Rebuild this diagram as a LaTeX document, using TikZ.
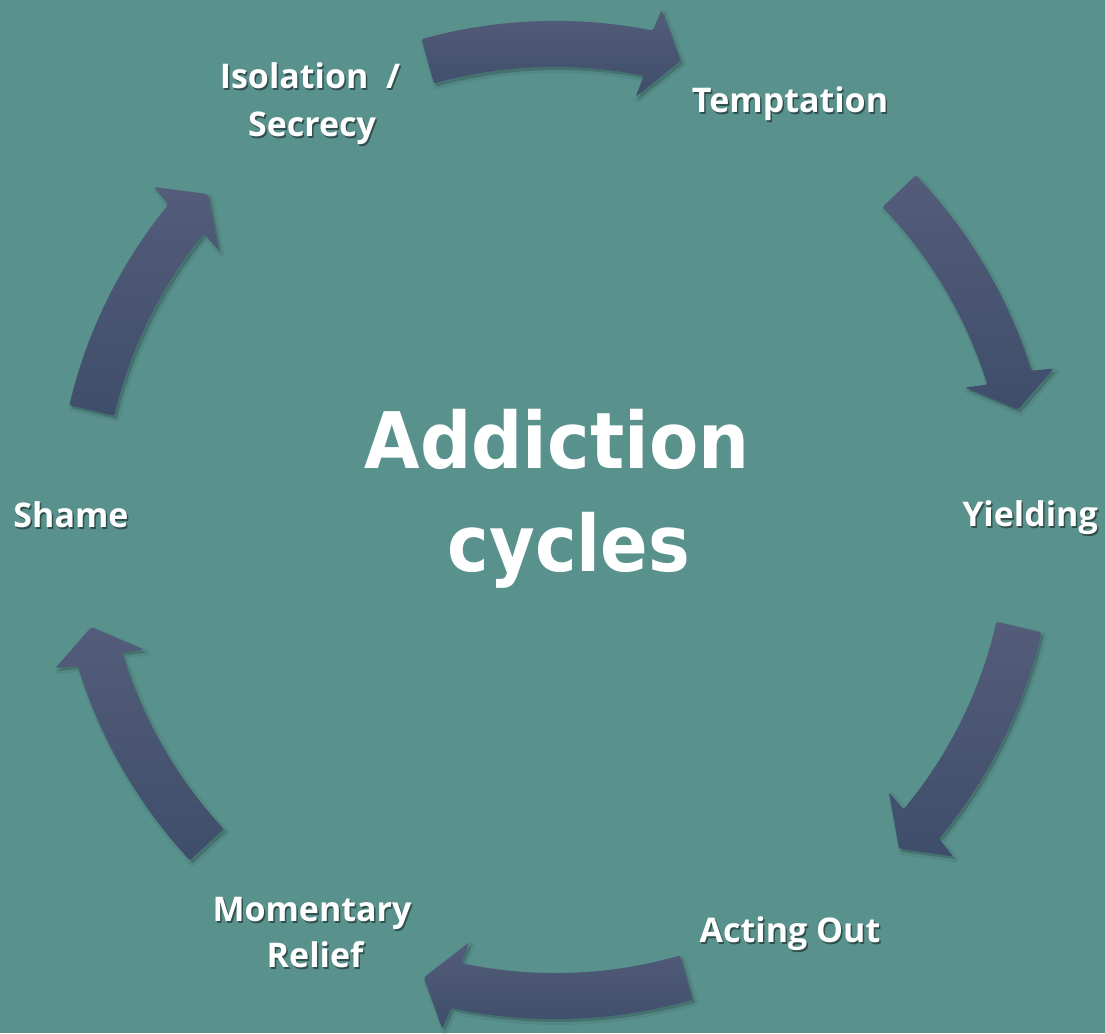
\documentclass[tikz,border=0pt]{standalone}
\usepackage{fontspec}
\newfontfamily\lblfont{Open Sans}
\newfontfamily\titlefonta{DejaVu Sans}[FakeStretch=0.92]
\newfontfamily\titlefontb{DejaVu Sans}[FakeStretch=0.9]
\definecolor{bg}{RGB}{89,145,141}
\definecolor{arlight}{RGB}{84,92,122}
\definecolor{ardark}{RGB}{62,78,106}
\tikzset{
  lbl/.style={font=\lblfont\bfseries\fontsize{34}{37}\selectfont, text=white, inner sep=0pt, anchor=base},
  lblsh/.style={lbl, text=black, opacity=0.45},
  ttl/.style={text=white, inner sep=0pt, anchor=base}
}
\newcommand\cycarrow[2]{%
  \pgfmathsetmacro\ta{#1}\pgfmathsetmacro\tb{#2}%
  \pgfmathsetmacro\hb{#2+4}\pgfmathsetmacro\ho{#2+3.5}\pgfmathsetmacro\hi{#2+4.5}%
  \begin{scope}[shift={(557.5,510)}]
    \draw[black,opacity=0.06,line width=6pt,line join=round]
      (\ta:499pt) arc[start angle=\ta,end angle=\hb,radius=499pt] -- (\ho:521pt) -- (\tb:476pt) -- (\hi:431pt) -- (\hb:453pt) arc[start angle=\hb,end angle=\ta,radius=453pt] -- cycle;
    \fill[black,opacity=0.16]
      (\ta:499pt) arc[start angle=\ta,end angle=\hb,radius=499pt] -- (\ho:521pt) -- (\tb:476pt) -- (\hi:431pt) -- (\hb:453pt) arc[start angle=\hb,end angle=\ta,radius=453pt] -- cycle;
  \end{scope}
  \begin{scope}[shift={(555,513)}]
    \shade[top color=arlight,bottom color=ardark,rounded corners=2pt]
      (\ta:499pt) arc[start angle=\ta,end angle=\hb,radius=499pt] -- (\ho:521pt) -- (\tb:476pt) -- (\hi:431pt) -- (\hb:453pt) arc[start angle=\hb,end angle=\ta,radius=453pt] -- cycle;
  \end{scope}}
\newcommand\shlabel[4]{% name, x, y, text
  \node[lblsh] (#1s) at ({#2+1.5},{#3-1.8}) {#4};
  \node[lbl] (#1) at (#2,#3) {#4};}
\begin{document}
\begin{tikzpicture}[x=1pt,y=1pt]
\fill[bg] (0,0) rectangle (1105,1033);
\useasboundingbox (0,0) rectangle (1105,1033);

% arrows: tail angle, tip angle (clockwise)
\cycarrow{105.5}{74.7}
\cycarrow{43.7}{13.4}
\cycarrow{-13}{-43.7}
\cycarrow{-74}{-106}
\cycarrow{-137}{-167}
\cycarrow{166.7}{136.8}

% labels
\shlabel{iso1}{310}{944}{Isolation\ \ /}
\shlabel{iso2}{312}{896}{Secrecy}
\shlabel{tempt}{790}{920}{Temptation}
\shlabel{yield}{1030}{506}{Yielding}
\shlabel{acting}{790}{90}{Acting Out}
\shlabel{rel1}{312}{111}{Momentary}
\shlabel{rel2}{315}{65}{Relief}
\shlabel{shame}{71}{505}{Shame}

% title
\node[ttl,font=\titlefonta\bfseries\fontsize{78}{90}\selectfont] (title1) at (557,564) {Addiction};
\node[ttl,font=\titlefontb\bfseries\fontsize{78}{90}\selectfont] (title2) at (569,461) {cycles};
\end{tikzpicture}
\end{document}
